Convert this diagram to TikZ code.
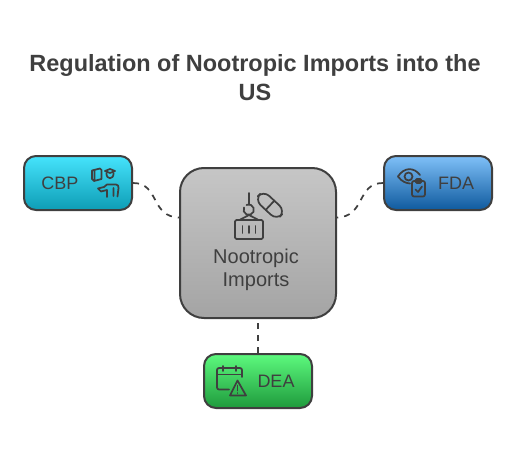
\documentclass[tikz,border=0pt]{standalone}
\usepackage{fontspec}
\setmainfont{Liberation Sans}
\usetikzlibrary{positioning}
\definecolor{ink}{HTML}{3F3F3F}
\definecolor{cbptop}{HTML}{45E3FC}
\definecolor{cbpbot}{HTML}{0E9DB5}
\definecolor{fdatop}{HTML}{7FC0F8}
\definecolor{fdabot}{HTML}{0F5A9E}
\definecolor{deatop}{HTML}{5DFA7E}
\definecolor{deabot}{HTML}{1E9A3C}
\definecolor{maintop}{HTML}{C6C6C6}
\definecolor{mainbot}{HTML}{A4A4A4}
\tikzset{
  boxnode/.style={draw=ink,line width=1.5pt,rounded corners=9pt,minimum width=81pt,minimum height=40.5pt,inner sep=0pt},
  labelnode/.style={text=ink,font=\fontsize{13.5}{16}\selectfont,inner sep=0pt},
  mainlabel/.style={text=ink,font=\fontsize{15}{18}\selectfont,inner sep=0pt},
  linkline/.style={draw=ink,line width=1.3pt,dash pattern=on 4.5pt off 4.5pt},
  iconline/.style={draw=ink,line width=1.3pt,line join=round,line cap=round}
}
\begin{document}
\begin{tikzpicture}[x=.75pt,y=-.75pt]
\useasboundingbox (0,0) rectangle (516,456);
\node[text=ink,font=\fontsize{17.6}{21.6}\selectfont\bfseries,align=center,inner sep=0pt] (title) at (255,77.5) {Regulation of Nootropic Imports into the\\US};
% boxes
\node[boxnode,rounded corners=18pt,minimum width=117pt,minimum height=112.5pt,top color=maintop,bottom color=mainbot] (main) at (258,243) {};
\node[boxnode,top color=cbptop,bottom color=cbpbot] (cbp) at (78,183) {};
\node[boxnode,top color=fdatop,bottom color=fdabot] (fda) at (438,183) {};
\node[boxnode,top color=deatop,bottom color=deabot] (dea) at (258,381) {};
% texts
\node[labelnode] (cbptext) at (60,183) {CBP};
\node[labelnode] (fdatext) at (456,183) {FDA};
\node[labelnode] (deatext) at (276,381) {DEA};
\node[mainlabel] (maintext) at (256,258) {Nootropic};
\node[mainlabel] (maintexttwo) at (256,282) {Imports};
% links
\coordinate (mainleft) at (180,217.5);
\coordinate (mainright) at (336,217.5);
\draw[linkline] (cbp.east) .. controls (160,183) and (150,217.5) .. (mainleft);
\draw[linkline] (fda.west) .. controls (356,183) and (366,217.5) .. (mainright);
\draw[linkline] (dea.north) -- (main.south);
% crate and pill
\draw[iconline] (249,193) -- (249,205) (244,207.5) arc (205:-115:5.2);
\draw[iconline] (249,215) -- (239.5,220) (249,215) -- (258.5,220);
\draw[iconline,rounded corners=1pt] (235,220) rectangle (263,239);
\draw[iconline] (242.5,226) -- (242.5,233) (249,226) -- (249,233) (255.5,226) -- (255.5,233);
\draw[iconline,rotate around={-43:(270,205.3)},rounded corners=6pt] (255,199) rectangle (285,211.6);
\draw[iconline,rotate around={-43:(270,205.3)}] (270,199) -- (270,211.6);
% cbp icon
\draw[iconline] (92,170.5) -- (100,168.5) -- (101.5,170) -- (101.5,179) -- (94,181) -- (92,179) -- cycle (94.5,170) -- (94.5,181);
\draw[iconline] (105,171) -- (110,169) -- (115,171) -- (110,173) -- cycle;
\draw[iconline] (106.5,173) .. controls (106,180) and (114,180) .. (113.5,173);
\draw[iconline] (98,188.5) -- (104,187) -- (107,184.5) -- (116,184.5) .. controls (118,184.5) and (118.5,186) .. (118.5,188) -- (117.5,196.5) (113.5,188) -- (113.5,196) (107,190) -- (107,197) (98,188.5) -- (101,191.5) -- (107,190);
% fda icon
\draw[iconline] (398,176.5) .. controls (404,167) and (414,167) .. (420,175);
\draw[iconline] (398,176.5) .. controls (402,182) and (406,183) .. (410,183.5);
\draw[iconline] (408.5,176.5) circle (4);
\draw[iconline,rounded corners=1.5pt] (412,181) rectangle (425,196.5);
\draw[iconline,rounded corners=1pt] (415.5,179) rectangle (421.5,183);
\draw[iconline] (415.5,189.5) -- (418,192) -- (422,186.5);
% dea icon
\draw[iconline,rounded corners=1.5pt] (229,389.5) -- (217,389.5) -- (217,368) -- (242,368) -- (242,377);
\draw[iconline] (217,374.5) -- (242,374.5) (223,366) -- (223,371) (236,366) -- (236,371);
\draw[iconline] (237.5,380.5) -- (246,395.5) -- (230,395.5) -- cycle;
\draw[iconline] (237.5,385.5) -- (237.5,390.5) (237.5,393) -- (237.5,393.2);
\end{tikzpicture}
\end{document}
